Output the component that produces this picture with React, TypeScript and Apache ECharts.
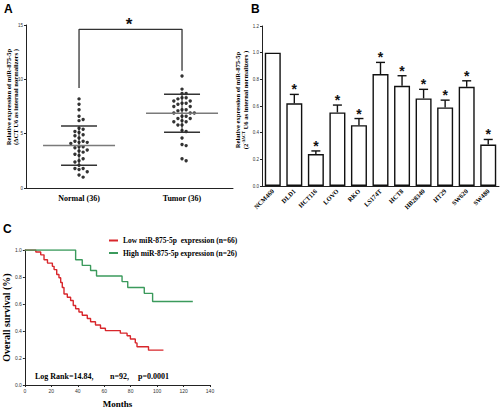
import React, { useEffect, useRef } from 'react';
import * as echarts from 'echarts';

// ---------- Panel A data ----------
const groupLabels = ['Normal (36)', 'Tumor (36)'];
const normalValues = [8.2, 7.7, 7.2, 6.6, 6.3, 6.2, 5.5, 5.4, 5.2, 5.1, 4.9, 4.8, 4.6, 4.3, 4.3, 4.2, 4.2, 4.1,
  3.8, 3.8, 3.7, 3.5, 3.4, 3.3, 3.1, 3.0, 2.7, 2.5, 2.4, 2.1, 1.8, 1.8, 1.7, 1.5, 1.2, 1.0];
const tumorValues = [10.3, 9.1, 8.7, 8.7, 8.3, 8.3, 8.2, 8.0, 8.0, 7.8, 7.8, 7.7, 7.5, 7.5, 7.2, 7.2, 7.1, 6.9,
  6.9, 6.9, 6.6, 6.6, 6.4, 6.4, 6.2, 6.1, 6.1, 5.8, 5.8, 5.3, 5.2, 4.6, 4.0, 3.9, 2.7, 2.5];
const groupMeans = [3.9, 6.87];
const groupSDs = [1.8, 1.75];
const aTicks = [0, 5, 10, 15];

// ---------- Panel B data ----------
const cellLines = ['NCM460', 'DLD1', 'HCT116', 'LOVO', 'RKO', 'LS174T', 'HCT8', 'HB28340', 'HT29', 'SW620', 'SW480'];
const cellExpression = [1.0, 0.62, 0.24, 0.552, 0.456, 0.84, 0.752, 0.657, 0.589, 0.744, 0.311];
const cellErrorTop = [1.0, 0.687, 0.263, 0.607, 0.506, 0.927, 0.827, 0.725, 0.644, 0.789, 0.349];
const cellSignificant = [false, true, true, true, true, true, true, true, true, true, true];

// ---------- Panel C data ----------
const lowMonths = [0, 8.3, 12.0, 14.5, 17.1, 20.8, 22.1, 24.1, 25.8, 27.1, 28.3, 29.6, 32.1, 34.6, 36.6, 38.4,
  40.9, 43.4, 47.2, 49.7, 53.4, 57.2, 60.9, 72.2, 77.3, 79.8, 83.5, 84.8, 93.5, 104.8];
const lowSurvival = [1.0, 0.985, 0.964, 0.928, 0.903, 0.879, 0.855, 0.819, 0.795, 0.759, 0.722, 0.674, 0.65, 0.626,
  0.589, 0.565, 0.541, 0.517, 0.493, 0.469, 0.444, 0.42, 0.403, 0.384, 0.365, 0.341, 0.312, 0.283, 0.258, 0.258];
const highMonths = [0, 38.4, 43.4, 49.7, 54.2, 73.5, 77.8, 90.3, 96.6, 127];
const highSurvival = [1.0, 0.928, 0.886, 0.848, 0.807, 0.766, 0.722, 0.679, 0.618, 0.618];
const lowName = 'Low miR-875-5p  expression (n=66)';
const highName = 'High miR-875-5p expression (n=26)';

const SERIF = '"Liberation Serif", "Times New Roman", serif';
const SANS = '"Liberation Sans", Arial, sans-serif';

// simple beeswarm: returns pixel x-offsets so dots don't overlap
function swarmOffsets(values: number[], pxPerUnit: number, d: number): number[] {
  const order = values.map((_, i) => i).sort((a, b) => values[b] - values[a]);
  const placed: { x: number; y: number }[] = [];
  const offs = new Array(values.length).fill(0);
  for (const i of order) {
    const y = values[i] * pxPerUnit;
    for (let k = 0; k < 30; k++) {
      const cand = k === 0 ? 0 : (k % 2 === 1 ? 1 : -1) * Math.ceil(k / 2) * d;
      const ok = placed.every((p) => Math.hypot(p.x - cand, p.y - y) >= d);
      if (ok) {
        offs[i] = cand;
        placed.push({ x: cand, y });
        break;
      }
    }
  }
  return offs;
}

export default function App() {
  const ref = useRef<HTMLDivElement>(null);
  useEffect(() => {
    if (!ref.current) return;
    document.body.style.margin = '0';
    const chart = echarts.init(ref.current, null, { renderer: 'svg' });
    const pxA = 163 / 15;
    const nOff = swarmOffsets(normalValues, pxA, 4.1);
    const tOff = swarmOffsets(tumorValues, pxA, 4.1);
    const dotData = (vals: number[], offs: number[], x: number) =>
      vals.map((v, i) => ({ value: [x, v], symbolOffset: [offs[i], 0] }));

    const tinyLabel = { fontSize: 4.5, color: '#333', fontFamily: SANS };
    const axisLine = { show: true, lineStyle: { color: '#222', width: 1 } };

    const option: any = {
      animation: false,
      textStyle: { fontFamily: SERIF },
      grid: [
        { left: 26, top: 25, width: 207, height: 163 },
        { left: 262, top: 26, width: 237, height: 160 },
        { left: 24, top: 250, width: 186, height: 138 },
      ],
      xAxis: [
        {
          gridIndex: 0, type: 'value', min: 0.485, max: 2.495,
          axisLine, axisTick: { show: false }, splitLine: { show: false },
          axisLabel: {
            customValues: [1, 2],
            formatter: (v: number) => groupLabels[Math.round(v) - 1] || '',
            fontFamily: SERIF, fontWeight: 'bold', fontSize: 8, color: '#000', margin: 6,
          },
        },
        {
          gridIndex: 1, type: 'category', data: cellLines,
          axisLine, axisTick: { show: false },
          axisLabel: { rotate: 45, fontFamily: SERIF, fontWeight: 'bold', fontSize: 6.5, color: '#000', margin: 4, interval: 0 },
        },
        {
          gridIndex: 2, type: 'value', min: 0, max: 140, interval: 20,
          axisLine, axisTick: { show: true, length: 2, lineStyle: { color: '#222' } }, splitLine: { show: false },
          axisLabel: { ...tinyLabel, fontSize: 5, margin: 3 },
          name: 'Months', nameLocation: 'middle', nameGap: 14,
          nameTextStyle: { fontFamily: SERIF, fontWeight: 'bold', fontSize: 9, color: '#000' },
        },
      ],
      yAxis: [
        {
          gridIndex: 0, type: 'value', min: 0, max: 15, interval: 5,
          axisLine, axisTick: { show: true, length: 2, lineStyle: { color: '#222' } }, splitLine: { show: false },
          axisLabel: { ...tinyLabel, margin: 3, customValues: aTicks },
        },
        {
          gridIndex: 1, type: 'value', min: 0, max: 1.2, interval: 0.2,
          axisLine, axisTick: { show: true, length: 2, lineStyle: { color: '#222' } }, splitLine: { show: false },
          axisLabel: { ...tinyLabel, margin: 3, formatter: (v: number) => v.toFixed(1) },
        },
        {
          gridIndex: 2, type: 'value', min: 0, max: 1, interval: 0.2,
          axisLine, axisTick: { show: true, length: 2, lineStyle: { color: '#222' } }, splitLine: { show: false },
          axisLabel: { ...tinyLabel, fontSize: 5, margin: 3, formatter: (v: number) => v.toFixed(1) },
          name: 'Overall survival (%)', nameLocation: 'middle', nameGap: 13, nameRotate: 90,
          nameTextStyle: { fontFamily: SERIF, fontWeight: 'bold', fontSize: 10, color: '#000' },
        },
      ],
      legend: {
        left: 109, top: 236, orient: 'vertical', itemWidth: 9, itemHeight: 2, itemGap: 3.5,
        icon: 'rect', padding: 0,
        data: [lowName, highName],
        textStyle: { fontFamily: SERIF, fontWeight: 'bold', fontSize: 7.5, color: '#000', lineHeight: 9 },
      },
      series: [
        {
          type: 'scatter', xAxisIndex: 0, yAxisIndex: 0, symbol: 'circle', symbolSize: 3.4,
          itemStyle: { color: '#000' }, data: dotData(normalValues, nOff, 1), z: 3,
        },
        {
          type: 'scatter', xAxisIndex: 0, yAxisIndex: 0, symbol: 'circle', symbolSize: 3.4,
          itemStyle: { color: '#000' }, data: dotData(tumorValues, tOff, 2), z: 3,
        },
        {
          type: 'custom', xAxisIndex: 0, yAxisIndex: 0, z: 4,
          data: groupMeans.map((m, i) => [i + 1, m, groupSDs[i]]),
          renderItem: (_p: any, api: any) => {
            const x = api.value(0), m = api.value(1), s = api.value(2);
            const c = api.coord([x, m]);
            const hi = api.coord([x, m + s]);
            const lo = api.coord([x, m - s]);
            return {
              type: 'group',
              children: [
                { type: 'line', shape: { x1: c[0], y1: hi[1], x2: c[0], y2: lo[1] }, style: { stroke: '#222', lineWidth: 1 } },
                { type: 'line', shape: { x1: c[0] - 36, y1: c[1], x2: c[0] + 36, y2: c[1] }, style: { stroke: '#7a7a7a', lineWidth: 1.5 } },
                { type: 'line', shape: { x1: c[0] - 18, y1: hi[1], x2: c[0] + 18, y2: hi[1] }, style: { stroke: '#333', lineWidth: 1.5 } },
                { type: 'line', shape: { x1: c[0] - 18, y1: lo[1], x2: c[0] + 18, y2: lo[1] }, style: { stroke: '#333', lineWidth: 1.5 } },
              ],
            };
          },
        },
        {
          type: 'line', xAxisIndex: 0, yAxisIndex: 0, symbol: 'none', z: 2,
          lineStyle: { color: '#333', width: 1.3 },
          data: [[1, 9.2], [1, 14.6], [2, 14.6], [2, 10.8]],
        },
        {
          type: 'bar', xAxisIndex: 1, yAxisIndex: 1, barWidth: 16,
          itemStyle: { color: '#fff', borderColor: '#111', borderWidth: 1.4 },
          data: cellExpression,
        },
        {
          type: 'custom', xAxisIndex: 1, yAxisIndex: 1, z: 5,
          data: cellLines.map((_, i) => [i, cellErrorTop[i], cellExpression[i], cellSignificant[i] ? 1 : 0]),
          renderItem: (_p: any, api: any) => {
            const i = api.value(0), top = api.value(1), v = api.value(2), sig = api.value(3);
            const pT = api.coord([i, top]);
            const pV = api.coord([i, v]);
            const children: any[] = [];
            if (top > v) {
              children.push({ type: 'line', shape: { x1: pT[0], y1: pV[1], x2: pT[0], y2: pT[1] }, style: { stroke: '#111', lineWidth: 1.4 } });
              children.push({ type: 'line', shape: { x1: pT[0] - 4.5, y1: pT[1], x2: pT[0] + 4.5, y2: pT[1] }, style: { stroke: '#111', lineWidth: 1.4 } });
            }
            if (sig) {
              children.push({
                type: 'text', x: pT[0], y: pT[1] - 5,
                style: { text: '*', textAlign: 'center', textVerticalAlign: 'middle', font: `bold 14px ${SANS}`, fill: '#111' },
              });
            }
            return { type: 'group', children };
          },
        },
        {
          name: lowName, type: 'line', xAxisIndex: 2, yAxisIndex: 2, step: 'end', symbol: 'none',
          lineStyle: { color: '#d8262b', width: 1.4 }, itemStyle: { color: '#d8262b' },
          data: lowMonths.map((m, i) => [m, lowSurvival[i]]),
        },
        {
          name: highName, type: 'line', xAxisIndex: 2, yAxisIndex: 2, step: 'end', symbol: 'none',
          lineStyle: { color: '#3b9a5c', width: 1.4 }, itemStyle: { color: '#3b9a5c' },
          data: highMonths.map((m, i) => [m, highSurvival[i]]),
        },
      ],
      graphic: [
        { type: 'text', x: 4, y: 3, style: { text: 'A', font: `bold 12px ${SANS}`, fill: '#000' } },
        { type: 'text', x: 251, y: 3, style: { text: 'B', font: `bold 12px ${SANS}`, fill: '#000' } },
        { type: 'text', x: 3, y: 223, style: { text: 'C', font: `bold 12px ${SANS}`, fill: '#000' } },
        { type: 'text', x: 129, y: 24, style: { text: '*', textAlign: 'center', textVerticalAlign: 'middle', font: `bold 17px ${SANS}`, fill: '#111' } },
        {
          type: 'text', x: 8, y: 97, rotation: Math.PI / 2,
          style: { text: 'Relative expression of miR-875-5p', textAlign: 'center', textVerticalAlign: 'middle', font: `bold 6.6px ${SERIF}`, fill: '#000' },
        },
        {
          type: 'text', x: 15.5, y: 97, rotation: Math.PI / 2,
          style: { text: '(ΔCT U6 as internal normalizers )', textAlign: 'center', textVerticalAlign: 'middle', font: `bold 6.6px ${SERIF}`, fill: '#000' },
        },
        {
          type: 'text', x: 237, y: 100, rotation: Math.PI / 2,
          style: { text: 'Relative expression of miR-875-5p', textAlign: 'center', textVerticalAlign: 'middle', font: `bold 6.6px ${SERIF}`, fill: '#000' },
        },
        {
          type: 'text', x: 245, y: 100, rotation: Math.PI / 2,
          style: {
            text: '{n|(2}{s|-ΔΔCT}{n| U6 as internal normalizers )}',
            textAlign: 'center', textVerticalAlign: 'middle',
            rich: {
              n: { fontFamily: SERIF, fontWeight: 'bold', fontSize: 6.6, fill: '#000', lineHeight: 8 },
              s: { fontFamily: SERIF, fontWeight: 'bold', fontSize: 4.2, fill: '#000', lineHeight: 8, verticalAlign: 'top' },
            },
          },
        },
        { type: 'text', x: 35, y: 376, style: { text: 'Log Rank=14.84,', textVerticalAlign: 'middle', font: `bold 8px ${SERIF}`, fill: '#000' } },
        { type: 'text', x: 110, y: 376, style: { text: 'n=92,', textVerticalAlign: 'middle', font: `bold 8px ${SERIF}`, fill: '#000' } },
        { type: 'text', x: 138, y: 376, style: { text: 'p=0.0001', textVerticalAlign: 'middle', font: `bold 8px ${SERIF}`, fill: '#000' } },
      ],
    };
    chart.setOption(option);
    return () => chart.dispose();
  }, []);
  return <div ref={ref} style={{ position: 'fixed', left: 0, top: 0, width: 500, height: 409, background: '#fff' }} />;
}
